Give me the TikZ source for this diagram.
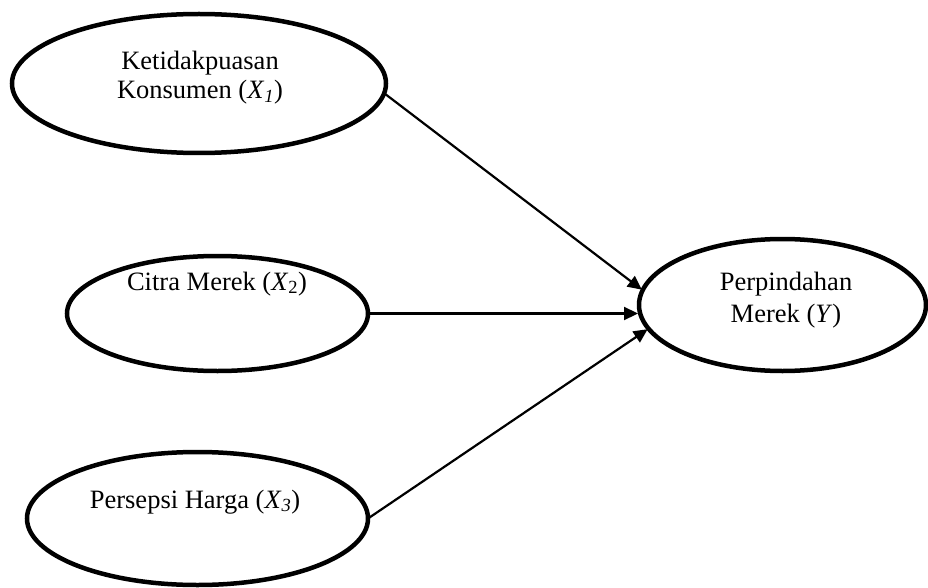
\documentclass[tikz,border=0pt]{standalone}
\usepackage{fontspec}
\setmainfont{Liberation Serif}
\usetikzlibrary{shapes.geometric,arrows.meta}
\tikzset{
  latent/.style={ellipse, draw, line width=4.5pt, inner sep=0pt, outer sep=0pt},
  lbl/.style={anchor=base, inner sep=0pt, font=\fontsize{26.5}{29}\selectfont},
  path/.style={line width=2.2pt, -{Triangle[length=14pt,width=13pt]}, shorten >=1pt}
}
\begin{document}
\begin{tikzpicture}[x=1pt,y=-1pt]
\useasboundingbox (0,0) rectangle (928,588);
\node[latent, minimum width=374pt, minimum height=139pt] (X1) at (199,83.5) {};
\node[latent, minimum width=301pt, minimum height=115pt] (X2) at (217.5,313.5) {};
\node[latent, minimum width=341pt, minimum height=133pt] (X3) at (197.5,518.5) {};
\node[latent, minimum width=287pt, minimum height=132pt] (Y) at (782.5,305) {};
\node[lbl] (t1a) at (200,70) {Ketidakpuasan};
\node[lbl] (t1b) at (200,99) {Konsumen (\textit{X}\textsubscript{\textit{1}})};
\node[lbl] (t2) at (217,290) {Citra Merek (\textit{X}\textsubscript{2})};
\node[lbl] (t3) at (195,508) {Persepsi Harga (\textit{X}\textsubscript{\textit{3}})};
\node[lbl] (ta) at (786,290) {Perpindahan};
\node[lbl] (tb) at (786,322) {Merek (\textit{Y})};
\draw[path] (X1.-3) -- (Y.174);
\draw[path] (X2.east) -- (X2.east -| Y.west);
\draw[path] (X3.east) -- (Y.190);
\end{tikzpicture}
\end{document}
